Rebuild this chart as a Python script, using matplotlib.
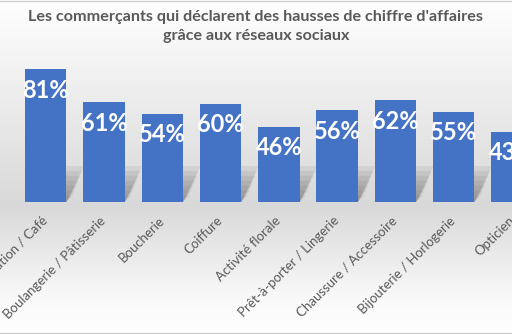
import numpy as np
import matplotlib
matplotlib.use("Agg")
import matplotlib.pyplot as plt
from matplotlib.lines import Line2D
from matplotlib.patches import Polygon

categories = ["Restauration / Café", "Boulangerie / Pâtisserie", "Boucherie", "Coiffure",
              "Activité florale", "Prêt-à-porter / Lingerie", "Chaussure / Accessoire",
              "Bijouterie / Horlogerie", "Opticien"]
values = [81, 61, 54, 60, 46, 56, 62, 55, 43]
value_labels = ["81%", "61%", "54%", "60%", "46%", "56%", "62%", "55%", "43%"]
title = "Les commerçants qui déclarent des hausses de chiffre d'affaires\ngrâce aux réseaux sociaux"

plt.rcParams['font.family'] = ['Lato', 'DejaVu Sans']

W, H = 512, 334
fig = plt.figure(figsize=(W / 100, H / 100), dpi=100)

# background gradient (white -> light grey near the axis -> white)
bg = fig.add_axes([0, 0, 1, 1], zorder=0)
rows = np.arange(H)
stops = [0, 60, 205, 300, 334]
levels = [1.0, 0.955, 0.85, 0.98, 1.0]
g = np.interp(rows, stops, levels)
img = np.repeat(g[:, None, None], 3, axis=2)
bg.imshow(img, aspect="auto", extent=[0, 1, 0, 1], origin="upper")
bg.set_axis_off()

# plot area
y0 = 132 / H
top = 60 / H
ax = fig.add_axes([0, y0, 1, 1 - y0 - top], zorder=1)
ax.patch.set_alpha(0)
x = np.arange(len(values))
width = 0.71
scale = 1.638  # px per percent
ax.set_xlim(-46 / 58.75, (W - 46) / 58.75)
ax.set_ylim(0, (H - 132 - 60) / scale)

# soft shadows behind the bars
for xi in x:
    for k in range(7):
        hs = 22 - k * 3
        sk = 0.3 - k * 0.03
        poly = Polygon([(xi - width / 2, 0), (xi + width / 2, 0),
                        (xi + width / 2 + sk, hs), (xi - width / 2 + sk, hs)],
                       closed=True, facecolor="#606060", edgecolor="none",
                       alpha=0.1, zorder=1)
        ax.add_patch(poly)

bars = ax.bar(x, values, width=width, color="#4472C4", zorder=2)

for xi, v, lab in zip(x, values, value_labels):
    ax.annotate(lab, (xi, v), xytext=(0, -21), textcoords="offset pixels",
                ha="center", va="center", color="white", fontsize=17,
                fontweight="bold", zorder=3)

ax.set_xticks(x)
ax.set_xticklabels(categories, rotation=45, ha="right", va="center",
                   rotation_mode="anchor", color="#595959", fontsize=9.5)
ax.tick_params(axis="x", length=0, pad=12)
ax.set_yticks([])
for s in ax.spines.values():
    s.set_visible(False)

fig.text(0.5, 1 - 26.5 / H, title, ha="center", va="center", fontsize=11.6,
         fontweight="bold", color="#595959", linespacing=1.4)

fig.add_artist(Line2D([0, 1], [1 - 0.5 / H, 1 - 0.5 / H], color="#d0d0d0", lw=1))
fig.add_artist(Line2D([0, 1], [1.5 / H, 1.5 / H], color="#d0d0d0", lw=1))

fig.savefig("out.png", dpi=100)
